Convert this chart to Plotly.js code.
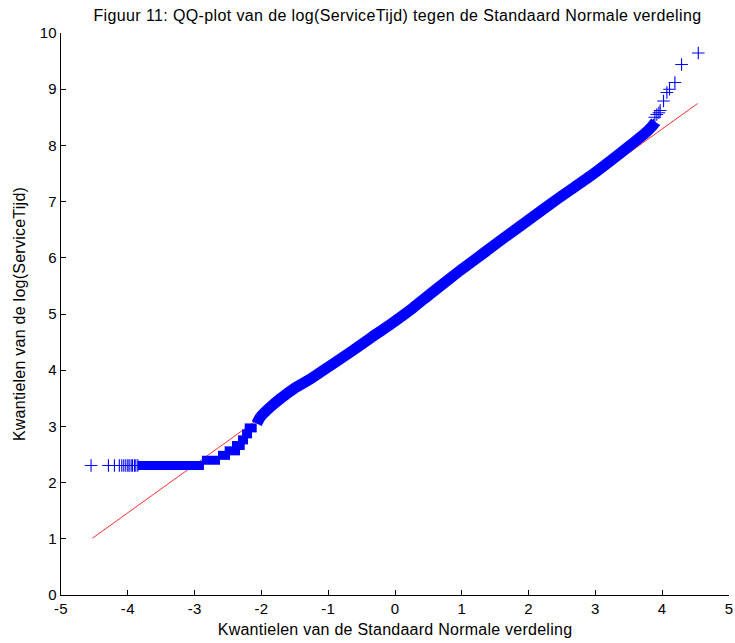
<!DOCTYPE html>
<html>
<head>
<meta charset="utf-8">
<script src="https://cdn.plot.ly/plotly-3.0.1.min.js"></script>
<style>
html,body{margin:0;padding:0;background:#fff;}
#chart{width:735px;height:643px;}
#chart text.gtitle {letter-spacing:0.38px;}
#chart text.xtitle, #chart text.ytitle {letter-spacing:0.25px;}
#chart .xtick text, #chart .ytick text {letter-spacing:0.3px;}
</style>
</head>
<body>
<div id="chart"></div>
<script>
// Reference (fitted) line endpoints
var refX = [-4.53, 4.53];
var refY = [1.01, 8.745];

// Discrete low levels (log of small service times): start x, end x, level
var stepY  = [2.303, 2.398, 2.485, 2.565, 2.66, 2.76, 2.867, 2.973];
var stepX0 = [-3.85, -2.89, -2.65, -2.55, -2.44, -2.35, -2.29, -2.25];
var stepX1 = [-2.86, -2.62, -2.47, -2.32, -2.25, -2.20, -2.14, -2.07];

// Dense central band of quantiles
var bandX = [-2.07, -2.02, -1.87, -1.72, -1.50, -1.27, -0.97, -0.67, -0.37, -0.075, 0.27, 0.52, 0.97, 1.12, 1.57, 2.02, 2.47, 2.92, 3.22, 3.52, 3.72, 3.84, 3.90];
var bandY = [3.05, 3.16, 3.34, 3.49, 3.68, 3.84, 4.08, 4.32, 4.57, 4.81, 5.11, 5.35, 5.77, 5.90, 6.30, 6.69, 7.08, 7.45, 7.72, 8.00, 8.19, 8.33, 8.42];

// Sparse tail points
var tailLX = [-4.55, -4.29, -4.20, -4.127, -4.09, -4.06, -4.03, -4.00, -3.98, -3.95, -3.93, -3.90, -3.88, -3.85];
var tailLY = [2.303, 2.303, 2.303, 2.303, 2.303, 2.303, 2.303, 2.303, 2.303, 2.303, 2.303, 2.303, 2.303, 2.303];
var tailRX = [3.87, 3.89, 3.92, 3.95, 3.97, 4.02, 4.07, 4.11, 4.19, 4.29, 4.54];
var tailRY = [8.36, 8.50, 8.55, 8.58, 8.62, 8.79, 8.94, 9.00, 9.12, 9.44, 9.645];

var xTicks = [-5, -4, -3, -2, -1, 0, 1, 2, 3, 4, 5];
var yTicks = [0, 1, 2, 3, 4, 5, 6, 7, 8, 9, 10];

var BLUE = '#0000ff';

var segX = [], segY = [];
for (var i = 0; i < stepY.length; i++) {
  segX.push(stepX0[i], stepX1[i], null);
  segY.push(stepY[i], stepY[i], null);
}

var traces = [
  {x: refX, y: refY, mode: 'lines', line: {color: '#ff3030', width: 1}, hoverinfo: 'skip'},
  {x: segX, y: segY, mode: 'lines', line: {color: BLUE, width: 9}, connectgaps: false, hoverinfo: 'skip'},
  {x: bandX, y: bandY, mode: 'lines', line: {color: BLUE, width: 11, shape: 'spline', smoothing: 0.5}, hoverinfo: 'skip'},
  {x: tailLX.concat(tailRX), y: tailLY.concat(tailRY), mode: 'markers',
   marker: {symbol: 'cross-thin', size: 9, color: BLUE, line: {color: BLUE, width: 1.1}}, hoverinfo: 'skip'}
];

var FAM = 'Liberation Sans, Arial, sans-serif';
var tickFont = {family: FAM, size: 15, color: '#000'};
var labFont = {family: FAM, size: 16, color: '#000'};

var layout = {
  width: 735, height: 643,
  margin: {l: 61, r: 6, t: 33, b: 48, pad: 0},
  paper_bgcolor: '#fff', plot_bgcolor: '#fff',
  showlegend: false,
  font: tickFont,
  title: {text: 'Figuur 11: QQ-plot van de log(ServiceTijd) tegen de Standaard Normale verdeling',
          font: labFont, xref: 'container', yref: 'container',
          x: 0.5408, xanchor: 'center', y: 0.9767, yanchor: 'middle'},
  xaxis: {
    range: [-5, 5], tickvals: xTicks, ticktext: xTicks.map(String),
    ticks: 'inside', ticklen: 5, tickcolor: '#000', tickwidth: 1,
    showline: true, linecolor: '#000', linewidth: 1, mirror: false,
    showgrid: false, zeroline: false, tickfont: tickFont,
    title: {text: 'Kwantielen van de Standaard Normale verdeling', font: labFont, standoff: 7}
  },
  yaxis: {
    range: [0, 10], tickvals: yTicks, ticktext: yTicks.map(String),
    ticks: 'inside', ticklen: 5, tickcolor: '#000', tickwidth: 1,
    showline: true, linecolor: '#000', linewidth: 1, mirror: false,
    showgrid: false, zeroline: false, tickfont: tickFont,
    title: {text: 'Kwantielen van de log(ServiceTijd)', font: labFont, standoff: 10}
  }
};

Plotly.newPlot('chart', traces, layout, {displayModeBar: false, staticPlot: true});
</script>
</body>
</html>
